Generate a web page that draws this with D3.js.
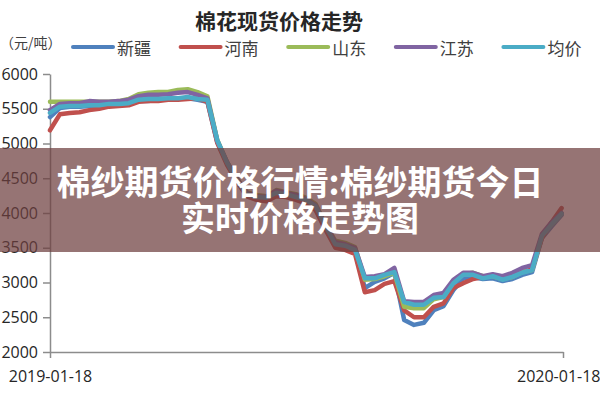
<!DOCTYPE html>
<html><head><meta charset="utf-8">
<script src="https://cdn.jsdelivr.net/npm/d3@7"></script>
<style>body{margin:0;background:#fff;overflow:hidden}</style>
</head><body><svg id="c" width="600" height="400"></svg>
<script>
const dates = ["2019-01-18","2019-01-25","2019-02-01","2019-02-08","2019-02-15","2019-02-22","2019-03-01","2019-03-08","2019-03-15","2019-03-22","2019-03-29","2019-04-05","2019-04-12","2019-04-19","2019-04-26","2019-05-03","2019-05-10","2019-05-17","2019-05-24","2019-05-31","2019-06-07","2019-06-14","2019-06-21","2019-06-28","2019-07-05","2019-07-12","2019-07-19","2019-07-26","2019-08-02","2019-08-09","2019-08-16","2019-08-23","2019-08-30","2019-09-06","2019-09-13","2019-09-20","2019-09-27","2019-10-04","2019-10-11","2019-10-18","2019-10-25","2019-11-01","2019-11-08","2019-11-15","2019-11-22","2019-11-29","2019-12-06","2019-12-13","2019-12-20","2019-12-27","2020-01-03","2020-01-10","2020-01-17"];
const xTickLabels = ["2019-01-18","2020-01-18"];
const yTicks = [2000,2500,3000,3500,4000,4500,5000,5500,6000];
const seriesNames = ["新疆","河南","山东","江苏","均价"];
const xinjiang = [5380,5510,5530,5530,5540,5540,5550,5550,5570,5610,5610,5630,5630,5640,5650,5630,5600,5020,4720,4460,4260,4220,4200,4270,4260,4220,4170,4070,3780,3540,3510,3450,2920,3010,3060,3140,2460,2390,2420,2600,2660,2890,3060,3080,3050,3060,3020,3050,3110,3150,3640,3810,3970];
const henan = [5190,5420,5440,5450,5480,5500,5530,5540,5550,5600,5610,5610,5630,5630,5640,5650,5600,5010,4690,4450,4240,4190,4170,4240,4230,4190,4140,4040,3760,3500,3470,3410,2860,2890,2980,3020,2600,2500,2500,2650,2700,2920,2990,3050,3080,3110,3060,3090,3150,3190,3640,3870,4070];
const shandong = [5600,5600,5600,5600,5600,5600,5600,5610,5640,5710,5730,5740,5740,5770,5780,5740,5680,5050,4730,4500,4300,4260,4240,4330,4300,4270,4220,4130,3840,3600,3570,3510,3040,3050,3090,3140,2650,2630,2630,2760,2790,3010,3120,3140,3090,3090,3050,3080,3150,3180,3670,3840,3990];
const jiangsu = [5480,5570,5580,5580,5610,5600,5600,5610,5630,5680,5700,5700,5710,5730,5740,5700,5650,5040,4730,4490,4290,4240,4230,4320,4290,4260,4200,4110,3830,3580,3550,3500,3080,3090,3120,3210,2730,2720,2720,2820,2850,3040,3140,3140,3090,3120,3090,3140,3210,3250,3700,3870,4000];
const junjia = [5440,5530,5540,5540,5550,5550,5570,5570,5580,5630,5640,5640,5650,5650,5670,5640,5630,5050,4720,4470,4270,4230,4220,4290,4270,4230,4190,4100,3810,3550,3530,3470,3060,3060,3110,3150,2720,2680,2680,2780,2790,2990,3110,3110,3060,3090,3040,3080,3140,3180,3670,3840,3990];
const seriesValues = [xinjiang, henan, shandong, jiangsu, junjia];
const colors = ["#4f81bd","#c0504d","#9bbb59","#8064a2","#4bacc6"];
const chartTitle = "棉花现货价格走势";
const unitLabel = "（元/吨）";
const bannerLines = ["棉纱期货价格行情:棉纱期货今日","实时价格走势图"];

const parse = d3.timeParse("%Y-%m-%d");
const svg = d3.select("#c");
const x = d3.scaleTime().domain([parse(xTickLabels[0]), parse(xTickLabels[1])]).range([50,563]);
const y = d3.scaleLinear().domain([2000,6000]).range([352,74]);

// title
svg.append("text").attr("x",279).attr("y",20).attr("text-anchor","middle")
  .attr("dominant-baseline","central")
  .style("font-family","'Noto Sans CJK SC'").style("font-weight","700").style("font-size","21px")
  .attr("fill","#262626").text(chartTitle);

// unit
svg.append("text").attr("x",0).attr("y",42).attr("dominant-baseline","central")
  .style("font-family","'Noto Sans CJK SC'").style("font-size","14px").attr("fill","#404040").text(unitLabel);

// legend
const lg = svg.append("g");
seriesNames.forEach((n,i)=>{
  const lx = 73 + i*107.6;
  lg.append("line").attr("x1",lx).attr("x2",lx+40).attr("y1",47).attr("y2",47)
    .attr("stroke",colors[i]).attr("stroke-width",4).attr("stroke-linecap","round");
  lg.append("text").attr("x",lx+44).attr("y",47).attr("dominant-baseline","central")
    .style("font-family","'Noto Sans CJK SC'").style("font-size","17px").attr("fill","#404040").text(n);
});

// axes
const yAxis = svg.append("g").attr("transform","translate(50,0)")
  .call(d3.axisLeft(y).tickValues(yTicks).tickSize(7).tickSizeOuter(0).tickPadding(5).tickFormat(d3.format("d")));
const xAxis = svg.append("g").attr("transform","translate(0,352)")
  .call(d3.axisBottom(x).tickValues(xTickLabels.map(parse)).tickSize(6).tickSizeOuter(0).tickPadding(13)
    .tickFormat(d3.timeFormat("%Y-%m-%d")));
[yAxis,xAxis].forEach(a=>{
  a.selectAll("path,line").attr("stroke","#8c8c8c").attr("stroke-width",1.5);
  a.selectAll("text").style("font-family","'Open Sans'").style("font-size","16px").attr("fill","#262626");
});
xAxis.selectAll(".tick:last-of-type text").attr("text-anchor","end").attr("dx",37);

// lines
const line = d3.line().x((d,i)=>x(parse(dates[i]))).y(d=>y(d));
seriesValues.forEach((vals,i)=>{
  svg.append("path").datum(vals).attr("d",line).attr("fill","none")
    .attr("stroke",colors[i]).attr("stroke-width",4.5).attr("stroke-linejoin","round").attr("stroke-linecap","round");
});

// banner overlay
svg.append("rect").attr("x",0).attr("y",148).attr("width",600).attr("height",104)
  .attr("fill","rgb(110,62,62)").attr("fill-opacity",0.72);
const bt = svg.append("text").attr("text-anchor","middle")
  .style("font-family","'Noto Sans CJK SC'").style("font-weight","700").style("font-size","34px")
  .attr("fill","#fff");
bannerLines.forEach((t,i)=>{
  bt.append("tspan").attr("x",300).attr("y",195 + i*36).text(t);
});
</script></body></html>
